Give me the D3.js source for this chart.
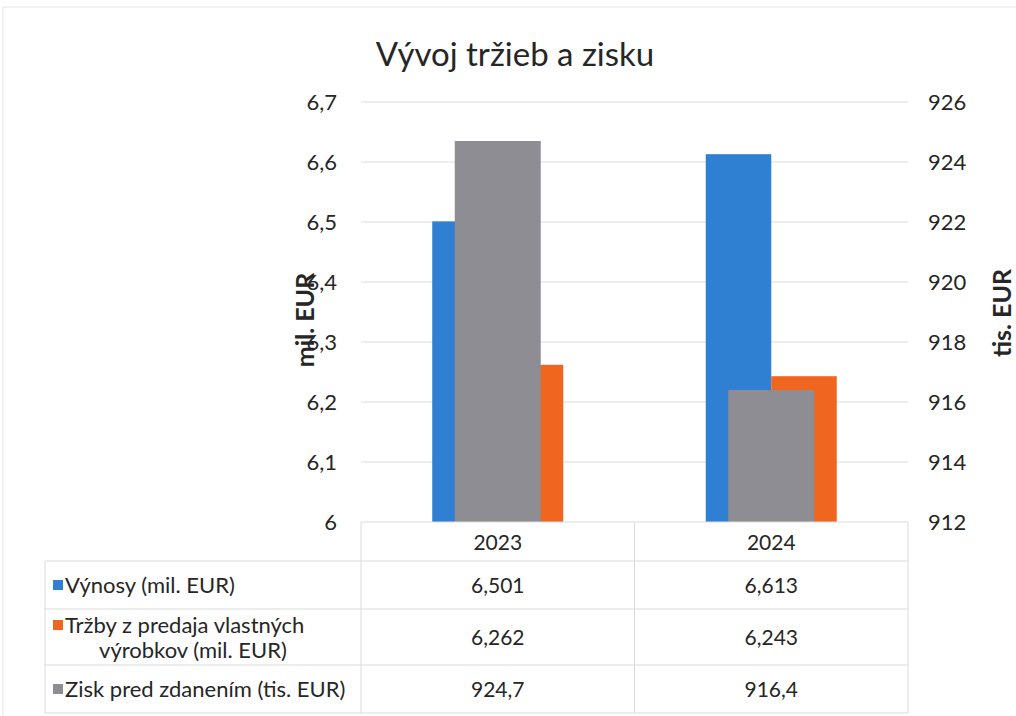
<!DOCTYPE html>
<html>
<head>
<meta charset="utf-8">
<script src="https://cdn.jsdelivr.net/npm/d3@7"></script>
<style>
  body { margin: 0; background: #fff; }
  text { font-family: Lato, "Open Sans", sans-serif; fill: #262626; }
</style>
</head>
<body>
<div id="vis"></div>
<script>
// data
const YEARS = ["2023", "2024"];
const VYNOSY = [6.501, 6.613];          // mil. EUR, left axis
const TRZBY = [6.262, 6.243];           // mil. EUR, left axis
const ZISK = [924.7, 916.4];            // tis. EUR, right axis
const VYNOSY_TXT = ["6,501", "6,613"];
const TRZBY_TXT = ["6,262", "6,243"];
const ZISK_TXT = ["924,7", "916,4"];
const LEFT_TICKS = [6, 6.1, 6.2, 6.3, 6.4, 6.5, 6.6, 6.7];
const LEFT_TICK_LABELS = ["6", "6,1", "6,2", "6,3", "6,4", "6,5", "6,6", "6,7"];
const RIGHT_TICKS = [912, 914, 916, 918, 920, 922, 924, 926];

// set constants
const FRAME_WIDTH = 1016;
const FRAME_HEIGHT = 716;
const PLOT = {left: 361, right: 908, top: 102, bottom: 522};
const PRIMARY_GROUP = 131;   // width of blue + orange pair
const SECONDARY_BAR = 86;    // width of gray bar
const COLORS = {vynosy: "#2f7fd3", trzby: "#f0661f", zisk: "#8e8d94"};
const GRID = "#d9dcdc";

const FRAME = d3.select("#vis")
  .append("svg")
    .attr("width", FRAME_WIDTH)
    .attr("height", FRAME_HEIGHT);

// outer chart border
FRAME.append("rect")
  .attr("x", 3).attr("y", 7)
  .attr("width", FRAME_WIDTH + 10).attr("height", FRAME_HEIGHT + 10)
  .attr("fill", "none").attr("stroke", "#e3e6e6");

// Title
FRAME.append("text")
  .attr("x", 515).attr("y", 66)
  .attr("text-anchor", "middle")
  .style("font-size", "33px")
  .text("Vývoj tržieb a zisku");

// scales
const X = d3.scaleBand().domain(YEARS).range([PLOT.left, PLOT.right]);
const X_INNER = d3.scaleBand().domain(["vynosy", "trzby"]).range([0, PRIMARY_GROUP]);
const Y_LEFT = d3.scaleLinear().domain([6, 6.7]).range([PLOT.bottom, PLOT.top]);
const Y_RIGHT = d3.scaleLinear().domain([912, 926]).range([PLOT.bottom, PLOT.top]);

// gridlines
FRAME.append("g")
  .selectAll("line")
  .data(LEFT_TICKS.slice(1))
  .enter()
  .append("line")
    .attr("x1", PLOT.left).attr("x2", PLOT.right)
    .attr("y1", d => Y_LEFT(d)).attr("y2", d => Y_LEFT(d))
    .attr("stroke", GRID).attr("stroke-width", 1);

// left axis
const leftAxis = FRAME.append("g")
  .attr("transform", "translate(" + PLOT.left + ",0)")
  .call(d3.axisLeft(Y_LEFT).tickValues(LEFT_TICKS)
    .tickFormat((d, i) => LEFT_TICK_LABELS[i]).tickSize(0).tickPadding(24));
leftAxis.select(".domain").remove();
leftAxis.selectAll("text").style("font-size", "22px").attr("fill", "#262626");

// right axis
const rightAxis = FRAME.append("g")
  .attr("transform", "translate(" + PLOT.right + ",0)")
  .call(d3.axisRight(Y_RIGHT).tickValues(RIGHT_TICKS).tickSize(0).tickPadding(20));
rightAxis.select(".domain").remove();
rightAxis.selectAll("text").style("font-size", "22px").attr("fill", "#262626");

// axis titles
FRAME.append("text")
  .attr("transform", "translate(314,320) rotate(-90)")
  .attr("text-anchor", "middle")
  .style("font-size", "25px").style("font-weight", "bold")
  .text("mil. EUR");
FRAME.append("text")
  .attr("transform", "translate(1011,313) rotate(-90)")
  .attr("text-anchor", "middle")
  .style("font-size", "25px").style("font-weight", "bold")
  .text("tis. EUR");

// primary bars
const offset = (X.bandwidth() - PRIMARY_GROUP) / 2;
const primary = [];
YEARS.forEach((y, i) => {
  primary.push({year: y, key: "vynosy", value: VYNOSY[i]});
  primary.push({year: y, key: "trzby", value: TRZBY[i]});
});
FRAME.append("g")
  .selectAll("rect")
  .data(primary)
  .enter()
  .append("rect")
    .attr("x", d => X(d.year) + offset + X_INNER(d.key))
    .attr("y", d => Y_LEFT(d.value))
    .attr("width", X_INNER.bandwidth())
    .attr("height", d => PLOT.bottom - Y_LEFT(d.value))
    .attr("fill", d => COLORS[d.key]);

// secondary bars (in front)
FRAME.append("g")
  .selectAll("rect")
  .data(YEARS.map((y, i) => ({year: y, value: ZISK[i]})))
  .enter()
  .append("rect")
    .attr("x", d => X(d.year) + (X.bandwidth() - SECONDARY_BAR) / 2)
    .attr("y", d => Y_RIGHT(d.value))
    .attr("width", SECONDARY_BAR)
    .attr("height", d => PLOT.bottom - Y_RIGHT(d.value))
    .attr("fill", COLORS.zisk);

// data table
const TABLE_LEFT = 45;
const ROWS = [522, 561, 609, 665, 713];
const tbl = FRAME.append("g").attr("stroke", GRID).attr("stroke-width", 1);
// header top
tbl.append("line")
  .attr("x1", PLOT.left).attr("x2", PLOT.right)
  .attr("y1", ROWS[0]).attr("y2", ROWS[0]);
// row lines
tbl.selectAll(".hrow")
  .data(ROWS.slice(1))
  .enter()
  .append("line")
    .attr("x1", TABLE_LEFT).attr("x2", PLOT.right)
    .attr("y1", d => d).attr("y2", d => d);
// vertical lines
tbl.selectAll(".vcol")
  .data(YEARS.map(y => X(y)).concat([PLOT.right]))
  .enter()
  .append("line")
    .attr("x1", d => d).attr("x2", d => d)
    .attr("y1", ROWS[0]).attr("y2", ROWS[4]);
tbl.append("line")
  .attr("x1", TABLE_LEFT).attr("x2", TABLE_LEFT)
  .attr("y1", ROWS[1]).attr("y2", ROWS[4]);

// header years
FRAME.append("g")
  .selectAll("text")
  .data(YEARS)
  .enter()
  .append("text")
    .attr("x", d => X(d) + X.bandwidth() / 2)
    .attr("y", (ROWS[0] + ROWS[1]) / 2 + 8)
    .attr("text-anchor", "middle")
    .style("font-size", "21px")
    .text(d => d);

// values
const rowsTxt = [VYNOSY_TXT, TRZBY_TXT, ZISK_TXT];
rowsTxt.forEach((vals, r) => {
  FRAME.append("g")
    .selectAll("text")
    .data(vals)
    .enter()
    .append("text")
      .attr("x", (d, i) => X(YEARS[i]) + X.bandwidth() / 2)
      .attr("y", (ROWS[r + 1] + ROWS[r + 2]) / 2 + 8)
      .attr("text-anchor", "middle")
      .style("font-size", "21px")
      .text(d => d);
});

// legend keys + row labels
const legend = [
  {color: COLORS.vynosy, y: (ROWS[1] + ROWS[2]) / 2},
  {color: COLORS.trzby, y: ROWS[2] + 16},
  {color: COLORS.zisk, y: (ROWS[3] + ROWS[4]) / 2}
];
FRAME.append("g")
  .selectAll("rect")
  .data(legend)
  .enter()
  .append("rect")
    .attr("x", 53).attr("y", d => d.y - 5)
    .attr("width", 10).attr("height", 10)
    .attr("fill", d => d.color);

FRAME.append("text").attr("x", 65).attr("y", legend[0].y + 8)
  .style("font-size", "22px").text("Výnosy (mil. EUR)");
FRAME.append("text").attr("x", 65).attr("y", legend[1].y + 8)
  .style("font-size", "22px").text("Tržby z predaja vlastných");
FRAME.append("text").attr("x", 193).attr("y", legend[1].y + 33)
  .attr("text-anchor", "middle")
  .style("font-size", "22px").text("výrobkov (mil. EUR)");
FRAME.append("text").attr("x", 65).attr("y", legend[2].y + 8)
  .style("font-size", "22px").text("Zisk pred zdanením (tis. EUR)");
</script>
</body>
</html>
